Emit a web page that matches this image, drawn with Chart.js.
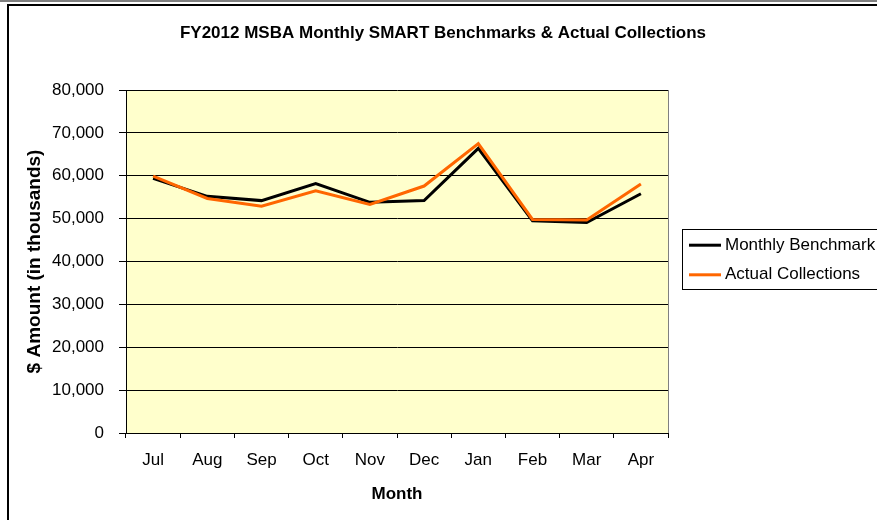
<!DOCTYPE html>
<html>
<head>
<meta charset="utf-8">
<script src="https://cdn.jsdelivr.net/npm/chart.js@4/dist/chart.umd.min.js"></script>
<style>
  html, body { margin: 0; padding: 0; background: #fff; }
  #wrap { width: 877px; height: 520px; }
</style>
</head>
<body>
<div id="wrap"><canvas id="chart" width="877" height="520"></canvas></div>
<script>
var chartTitle = 'FY2012 MSBA Monthly SMART Benchmarks & Actual Collections';
var months = ['Jul', 'Aug', 'Sep', 'Oct', 'Nov', 'Dec', 'Jan', 'Feb', 'Mar', 'Apr'];
var benchmark = [59400, 55200, 54200, 58200, 53800, 54200, 66400, 49500, 49100, 55800];
var actual = [59900, 54700, 52900, 56500, 53300, 57600, 67500, 49800, 49700, 58100];
var yTicks = [0, 10000, 20000, 30000, 40000, 50000, 60000, 70000, 80000];

var fontFamily = '"Liberation Sans", Arial, sans-serif';

// outer frame, title and yellow plot area
var framePlugin = {
  id: 'frame',
  beforeDraw: function (chart) {
    var ctx = chart.ctx, a = chart.chartArea;
    ctx.save();
    ctx.fillStyle = '#ffffff';
    ctx.fillRect(0, 0, chart.width, chart.height);
    ctx.fillStyle = '#808080';
    ctx.fillRect(0, 0, chart.width, 2);
    ctx.fillStyle = '#000000';
    ctx.fillRect(7, 4, chart.width - 7, 2);
    ctx.fillRect(7, 4, 2, chart.height - 4);
    ctx.fillStyle = '#FFFFCC';
    ctx.fillRect(a.left, a.top, a.right - a.left, a.bottom - a.top);
    // title sits over the whole frame, not just the plot
    ctx.fillStyle = '#000';
    ctx.font = 'bold 17px ' + fontFamily;
    ctx.textAlign = 'center';
    ctx.textBaseline = 'middle';
    ctx.fillText(chartTitle, 443, 33);
    ctx.restore();
  },
  beforeDatasetsDraw: function (chart) {
    var ctx = chart.ctx, a = chart.chartArea;
    ctx.save();
    ctx.strokeStyle = '#808080';
    ctx.lineWidth = 1;
    ctx.beginPath();
    ctx.moveTo(Math.round(a.right) + 0.5, a.top);
    ctx.lineTo(Math.round(a.right) + 0.5, a.bottom);
    ctx.stroke();
    ctx.restore();
  }
};

// boxed legend on the right, like the original
var boxLegend = {
  id: 'boxLegend',
  afterDraw: function (chart) {
    var ctx = chart.ctx, a = chart.chartArea;
    var sets = chart.data.datasets;
    var rowH = 29.6;
    var left = a.right + 14;
    var cy = (a.top + a.bottom) / 2 - 2;
    var top = cy - rowH * sets.length / 2 - 0.5;
    ctx.save();
    ctx.strokeStyle = '#000';
    ctx.lineWidth = 1;
    ctx.strokeRect(Math.round(left) + 0.5, Math.round(top) + 0.5, chart.width, Math.round(rowH * sets.length + 1));
    ctx.font = '17px ' + fontFamily;
    ctx.textBaseline = 'middle';
    ctx.fillStyle = '#000';
    sets.forEach(function (ds, i) {
      var y = top + rowH * (i + 0.5) + 1;
      ctx.strokeStyle = ds.borderColor;
      ctx.lineWidth = 3;
      ctx.beginPath();
      ctx.moveTo(left + 7, y);
      ctx.lineTo(left + 39, y);
      ctx.stroke();
      ctx.fillText(ds.label, left + 43, y);
    });
    ctx.restore();
  }
};

new Chart(document.getElementById('chart'), {
  type: 'line',
  data: {
    labels: months,
    datasets: [
      { label: 'Monthly Benchmark', data: benchmark, borderColor: '#000000', backgroundColor: '#000000',
        borderWidth: 3, pointRadius: 0, tension: 0, order: 2 },
      { label: 'Actual Collections', data: actual, borderColor: '#FF6600', backgroundColor: '#FF6600',
        borderWidth: 3, pointRadius: 0, tension: 0, order: 1 }
    ]
  },
  options: {
    responsive: false,
    animation: false,
    layout: { padding: { left: 0, right: 209, top: 90, bottom: 0 } },
    plugins: {
      legend: { display: false },
      tooltip: { enabled: false },
      title: { display: false }
    },
    scales: {
      x: {
        offset: true,
        afterFit: function (s) { s.height = 87; },
        grid: { offset: true, drawOnChartArea: false, color: '#000', tickLength: 5, tickColor: '#000' },
        border: { color: '#000', width: 1 },
        ticks: { color: '#000', padding: 12, font: { family: fontFamily, size: 17 }, maxRotation: 0 },
        title: { display: true, text: 'Month', color: '#000',
          font: { family: fontFamily, size: 17, weight: 'bold' }, padding: { top: 4, bottom: 15 } }
      },
      y: {
        min: 0,
        max: 80000,
        afterFit: function (s) { s.width = 126; },
        afterBuildTicks: function (s) { s.ticks = yTicks.map(function (v) { return { value: v }; }); },
        grid: { color: '#000', tickLength: 7, tickColor: '#000' },
        border: { color: '#000', width: 1 },
        ticks: { color: '#000', padding: 15, font: { family: fontFamily, size: 17 },
          callback: function (v) { return v.toLocaleString('en-US'); } },
        title: { display: true, text: '$ Amount (in thousands)', color: '#000',
          font: { family: fontFamily, size: 19, weight: 'bold' }, padding: { top: 23, bottom: 0 } }
      }
    }
  },
  plugins: [framePlugin, boxLegend]
});
</script>
</body>
</html>
